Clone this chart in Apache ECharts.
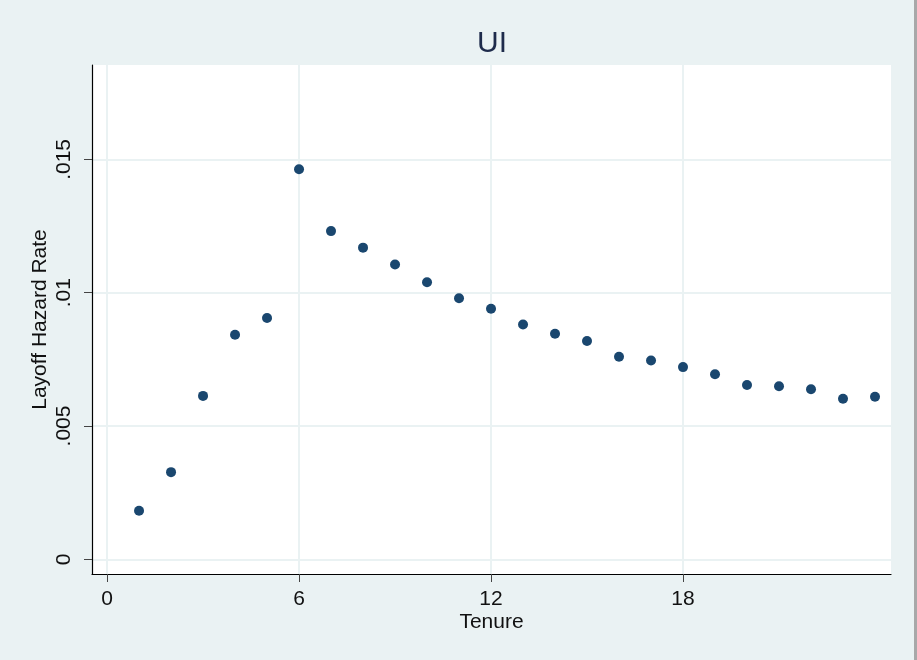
<!DOCTYPE html>
<html>
<head>
<meta charset="utf-8">
<script src="https://cdn.jsdelivr.net/npm/echarts@6/dist/echarts.min.js"></script>
<style>
  html, body { margin: 0; padding: 0; background: #a8a8a8; }
  #chart { width: 914px; height: 660px; background: #eaf2f3; }
</style>
</head>
<body>
<div id="chart"></div>
<script>
const tenure = [1,2,3,4,5,6,7,8,9,10,11,12,13,14,15,16,17,18,19,20,21,22,23,24];
const hazard = [0.00182,0.00327,0.00613,0.00842,0.00905,0.01463,0.01231,0.01169,0.01106,0.01039,0.00979,0.00940,0.00881,0.00846,0.00819,0.00760,0.00746,0.00721,0.00694,0.00654,0.00649,0.00638,0.00602,0.00610];
const xTicks = [0, 6, 12, 18];
const yTicks = [0, 0.005, 0.01, 0.015];
const yTickLabels = ['0', '.005', '.01', '.015'];

const chart = echarts.init(document.getElementById('chart'), null, {renderer: 'canvas'});
const font = 'Liberation Sans, Arial, sans-serif';
chart.setOption({
  animation: false,
  backgroundColor: '#eaf2f3',
  title: {
    text: 'UI', left: 472, top: 24,
    textStyle: {fontFamily: font, fontSize: 30, fontWeight: 'normal', color: '#1e2b4b'}
  },
  grid: {
    left: 92, right: 23, top: 65, bottom: 86, show: true,
    backgroundColor: '#ffffff', borderWidth: 0
  },
  xAxis: {
    type: 'value', min: -0.47, max: 24.5,
    name: 'Tenure', nameLocation: 'middle', nameGap: 38, nameMoveOverlap: false,
    nameTextStyle: {fontFamily: font, fontSize: 21, color: '#111'},
    axisLine: {show: true, onZero: false, lineStyle: {color: '#000', width: 1.2}},
    axisTick: {show: true, length: 8, customValues: xTicks, lineStyle: {color: '#444'}},
    axisLabel: {customValues: xTicks, margin: 15, fontFamily: font, fontSize: 21, color: '#111'},
    splitLine: {show: true, lineStyle: {color: '#eaf2f3', width: 2}}
  },
  yAxis: {
    type: 'value', min: -0.00055, max: 0.01854,
    name: 'Layoff Hazard Rate', nameLocation: 'middle', nameGap: 41, nameMoveOverlap: false,
    nameTextStyle: {fontFamily: font, fontSize: 21, color: '#111'},
    axisLine: {show: true, onZero: false, lineStyle: {color: '#000', width: 1.2}},
    axisTick: {show: true, length: 8, customValues: yTicks, lineStyle: {color: '#444'}},
    axisLabel: {
      customValues: yTicks, rotate: 90, margin: 17, fontFamily: font, fontSize: 21, color: '#111',
      formatter: v => { const i = yTicks.findIndex(t => Math.abs(t - v) < 1e-9); return i >= 0 ? yTickLabels[i] : ''; }
    },
    splitLine: {show: true, lineStyle: {color: '#eaf2f3', width: 2}}
  },
  series: [{
    type: 'scatter',
    data: tenure.map((t, i) => [t, hazard[i]]),
    symbol: 'circle', symbolSize: 10,
    itemStyle: {color: '#1a476f', opacity: 1}
  }]
});
</script>
</body>
</html>
